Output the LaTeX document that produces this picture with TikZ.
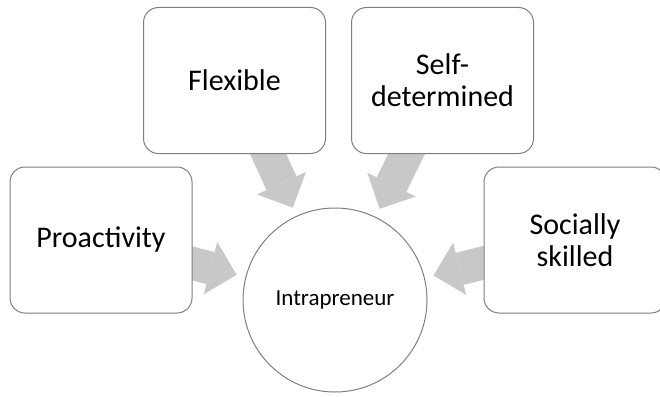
\documentclass[tikz,border=0pt]{standalone}
\usepackage{fontspec}
\setmainfont{Carlito}
\usetikzlibrary{arrows.meta,backgrounds}
\definecolor{boxgray}{HTML}{7F7F7F}
\definecolor{arrowgray}{HTML}{C8C8C8}
\begin{document}
\begin{tikzpicture}[x=1pt,y=-1pt,
  trait/.style={draw=boxgray, line width=1pt, fill=white, rounded corners=15pt,
    minimum width=182pt, minimum height=146pt, align=center, inner sep=0pt,
    font=\fontsize{30}{32}\selectfont},
  hubnode/.style={circle, draw=boxgray, line width=1pt, fill=white,
    minimum size=184pt, inner sep=0pt, font=\fontsize{23}{27}\selectfont},
  feed/.style={draw=arrowgray, line width=33pt, shorten <=-12pt, shorten >=9pt,
    -{Triangle[length=27pt 0 0, width=54pt 0 0, line width=0pt]}}
]
\useasboundingbox (0,0) rectangle (660,396);

% the five elements
\node[hubnode] (hub) at (335,300) {Intrapreneur};
\node[trait] (pro)  at (101,240)   {Proactivity};
\node[trait] (flex) at (234.5,80.5) {Flexible};
\node[trait] (self) at (442.5,80.5) {Self-\\determined};
\node[trait] (soc)  at (575,240)   {Socially\\skilled};

% block arrows feeding the hub, kept behind the boxes
\begin{scope}[on background layer]
  \draw[feed] (pro)  -- (hub);
  \draw[feed] (flex) -- (hub);
  \draw[feed] (self) -- (hub);
  \draw[feed] (soc)  -- (hub);
\end{scope}
\end{tikzpicture}
\end{document}
